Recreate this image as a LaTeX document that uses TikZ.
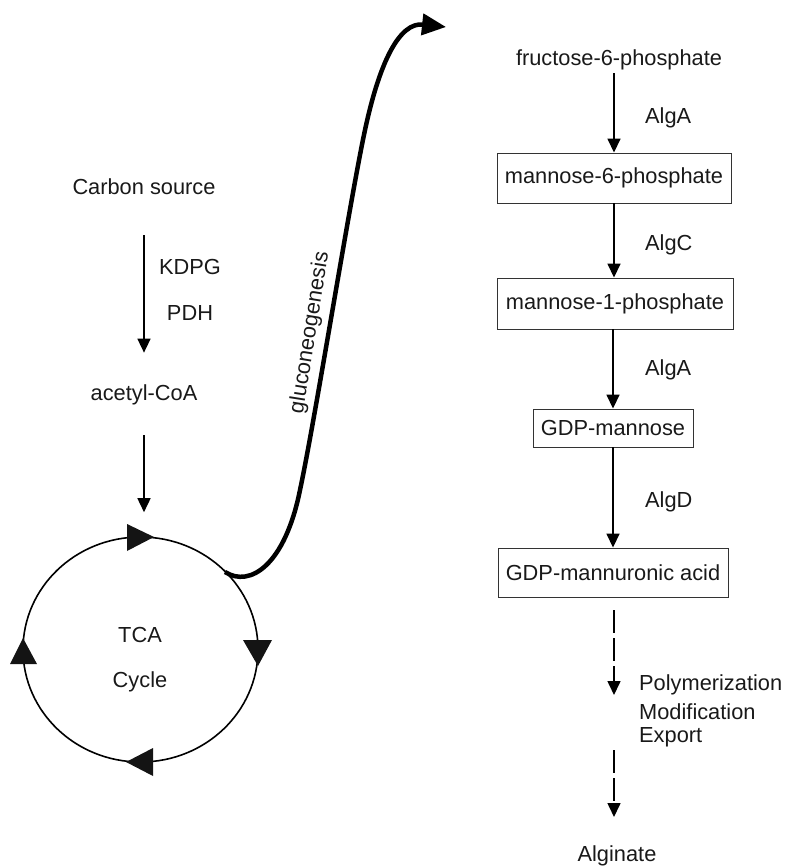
\documentclass[tikz,border=0pt]{standalone}
\usepackage{fontspec}
\setmainfont{Liberation Sans}
\usetikzlibrary{arrows.meta,shapes.geometric}
\begin{document}
\begin{tikzpicture}[x=1pt,y=-1pt,
  every node/.style={font=\fontsize{21.8}{26}\selectfont, inner sep=0pt, text=black!90},
  lbl/.style={anchor=center},
  enz/.style={anchor=west},
  box/.style={draw=black!80, line width=0.9pt, anchor=center},
  arr/.style={line width=1.6pt, -{Triangle[length=14pt,width=13pt]}},
  darr/.style={arr, dash pattern=on 23pt off 5pt},
  tri/.style={fill=black!92}
]
\useasboundingbox (0,0) rectangle (786,867);

% left branch
\node[lbl] (cs) at (144,187) {Carbon source};
\node[lbl] (kdpg) at (190,267) {KDPG};
\node[lbl] (pdh) at (190,313) {PDH};
\node[lbl] (acoa) at (144,395) {acetyl-CoA};
\draw[arr, shorten <=40pt, shorten >=32pt] (cs) -- (acoa);

% TCA cycle
\node[draw=black, line width=1.6pt, ellipse, minimum width=235pt, minimum height=225pt] (tca) at (140.5,649.5) {};
\node[lbl] (tcat) at (140,635) {TCA};
\node[lbl] (cyc) at (140,682) {Cycle};
\draw[arr, shorten <=30pt, shorten >=24pt] (acoa.south) -- (acoa.south |- tca.north);
\fill[tri] (127,524) -- (127,551) -- (154,537) -- cycle;
\fill[tri] (243,640) -- (272,640) -- (258,666) -- cycle;
\fill[tri] (153,748) -- (153,776) -- (126,762) -- cycle;
\fill[tri] (10,664) -- (37,664) -- (23,638) -- cycle;

% gluconeogenesis
\coordinate (gstart) at (225,572);
\coordinate (gend) at (446,27);
\draw[line width=4.5pt, -{Triangle[length=24pt,width=21pt]}]
  (gstart) .. controls (250,588) and (285,565) .. (300,490)
  .. controls (315,420) and (350,200) .. (365,130)
  .. controls (380,60) and (400,22) .. (gend);
\node[lbl, rotate=81] (glu) at (310,333) {gluconeogenesis};

% right branch
\node[lbl, inner sep=3pt] (f6p) at (619,60) {fructose-6-phosphate};
\node[box, minimum width=234pt, minimum height=50pt] (m6p) at (614,178) {mannose-6-phosphate};
\node[box, minimum width=236pt, minimum height=51pt] (m1p) at (615,303.5) {mannose-1-phosphate};
\node[box, minimum width=160pt, minimum height=38pt] (gdpm) at (613,428) {GDP-mannose};
\node[box, minimum width=230pt, minimum height=49pt] (gdpma) at (613,572.5) {GDP-mannuronic acid};

\draw[arr] (m6p.north |- f6p.south) -- (m6p.north);
\draw[arr] (m6p.south) -- (m6p.south |- m1p.north);
\draw[arr] (m1p.south -| gdpm.north) -- (gdpm.north);
\draw[arr] (gdpm.south) -- (gdpm.south |- gdpma.north);

\node[enz] (alga1) at (645,118) {AlgA};
\node[enz] (algc) at (645,245) {AlgC};
\node[enz] (alga2) at (645,370) {AlgA};
\node[enz] (algd) at (645,502) {AlgD};

\node[enz] (poly) at (639,685) {Polymerization};
\node[enz] (modif) at (639,712) {Modification};
\node[enz] (export) at (639,737) {Export};

\node[anchor=base] (alg) at (617,861) {Alginate};

\coordinate (d1s) at (614,610);
\coordinate (d1e) at (614,695);
\coordinate (d2s) at (614,750);
\coordinate (d2e) at (614,817);
\draw[darr] (d1s) -- (d1e);
\draw[darr] (d2s) -- (d2e);
\end{tikzpicture}
\end{document}
